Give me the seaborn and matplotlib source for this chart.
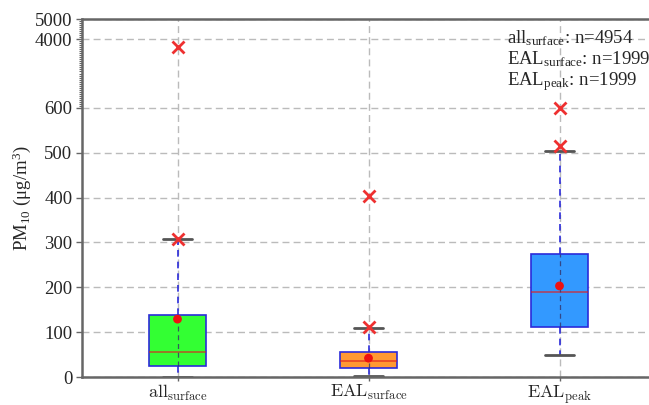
import numpy as np
import matplotlib
matplotlib.use("Agg")
import matplotlib.pyplot as plt
import seaborn as sns

# ---------------- data ----------------
categories = [r"$\mathrm{all}_{\mathrm{surface}}$", r"$\mathrm{EAL}_{\mathrm{surface}}$", r"$\mathrm{EAL}_{\mathrm{peak}}$"]
q1 = [25, 20, 111]
median = [56, 36, 190]
q3 = [138, 56, 274]
whislo = [0, 2, 49]
whishi = [307, 109, 504]
means = [129, 42, 203]
outliers = [[307, 3600], [111, 404], [516, 605]]
counts = [4954, 1999, 1999]
count_labels = [r"all$_{\mathrm{surface}}$", r"EAL$_{\mathrm{surface}}$", r"EAL$_{\mathrm{peak}}$"]
box_colors = ["#33ff33", "#ff9933", "#3399ff"]
yticks = [0, 100, 200, 300, 400, 500, 600, 4000, 5000]

# ---------------- style ----------------
sns.set_style("white")
plt.rcParams["font.family"] = ["Liberation Serif", "DejaVu Serif"]
plt.rcParams["mathtext.fontset"] = "custom"
plt.rcParams["mathtext.rm"] = "Liberation Serif"
plt.rcParams["mathtext.it"] = "Liberation Serif:italic"
plt.rcParams["mathtext.bf"] = "Liberation Serif:bold"

BREAK = 600.0
K = 0.045

def fwd(v):
    v = np.asarray(v, dtype=float)
    return np.where(v <= BREAK, v, BREAK + (v - BREAK) * K)

def inv(y):
    y = np.asarray(y, dtype=float)
    return np.where(y <= BREAK, y, BREAK + (y - BREAK) / K)

fig = plt.figure(figsize=(6.49, 4.05), dpi=100)
ax = fig.add_axes([82 / 649, 28 / 405, 573 / 649, 358 / 405])
ax.set_yscale("function", functions=(fwd, inv))

pos = np.arange(len(categories))
stats = []
for i in range(len(categories)):
    stats.append(dict(med=median[i], q1=q1[i], q3=q3[i], whislo=whislo[i],
                      whishi=whishi[i], fliers=outliers[i], mean=means[i],
                      label=categories[i]))

bp = ax.bxp(stats, positions=pos, widths=0.3, patch_artist=True, showmeans=False,
            boxprops=dict(edgecolor="#2b2bd9", linewidth=1.2),
            whiskerprops=dict(color="#2b2bd9", linestyle=(0, (4, 3)), linewidth=1.2),
            capprops=dict(color="#555555", linewidth=2),
            medianprops=dict(color="#e02020", linewidth=1.2, alpha=0.7),
            flierprops=dict(marker="x", markeredgecolor="#ee3030", markersize=8,
                            markeredgewidth=2, linestyle="none"),
            zorder=2)
for patch, c in zip(bp["boxes"], box_colors):
    patch.set_facecolor(c)

# dashed centre line through boxes
ax.vlines(pos, q1, q3, colors="#33336a", linestyles=(0, (4, 3)), linewidth=0.9, zorder=3, alpha=0.8)

# means with seaborn
sns.scatterplot(x=pos, y=means, ax=ax, color="#ee1111", s=40, edgecolor="none", zorder=5, legend=False)

ax.set_xlim(-0.5, 2.5)
ax.set_ylim(0, 5000)
ax.set_xticks(pos)
ax.set_xticklabels(categories, fontsize=13, math_fontfamily="cm")
ax.set_yticks(yticks)
ax.set_yticklabels([str(t) for t in yticks], fontsize=13.5)
ax.set_yticks(list(range(700, 5000, 100)), minor=True)
ax.tick_params(axis="y", which="major", length=4, width=1, color="#666666", direction="out", left=True, pad=3)
ax.tick_params(axis="y", which="minor", length=2, width=0.8, color="#666666", direction="out", left=True)
ax.tick_params(axis="x", length=3, width=1, color="#666666", direction="out", bottom=True, pad=1)

ax.grid(True, axis="both", color="#bbbbbb", linestyle=(0, (5, 3)), linewidth=1)
ax.set_axisbelow(True)

for s in ["left", "bottom", "top"]:
    ax.spines[s].set_color("#666666")
    ax.spines[s].set_linewidth(1.8)
ax.spines["right"].set_visible(False)

ax.set_ylabel("PM$_{10}$ (μg/m$^{3}$)", fontsize=13.5)
ax.yaxis.set_label_coords(-0.086, 0.5)

for i, (lab, n) in enumerate(zip(count_labels, counts)):
    fig.text(507 / 649, (405 - 43 - 21 * i) / 405, f"{lab}: n={n}", fontsize=13.5,
             va="baseline", ha="left")

fig.savefig("out.png", dpi=100)
